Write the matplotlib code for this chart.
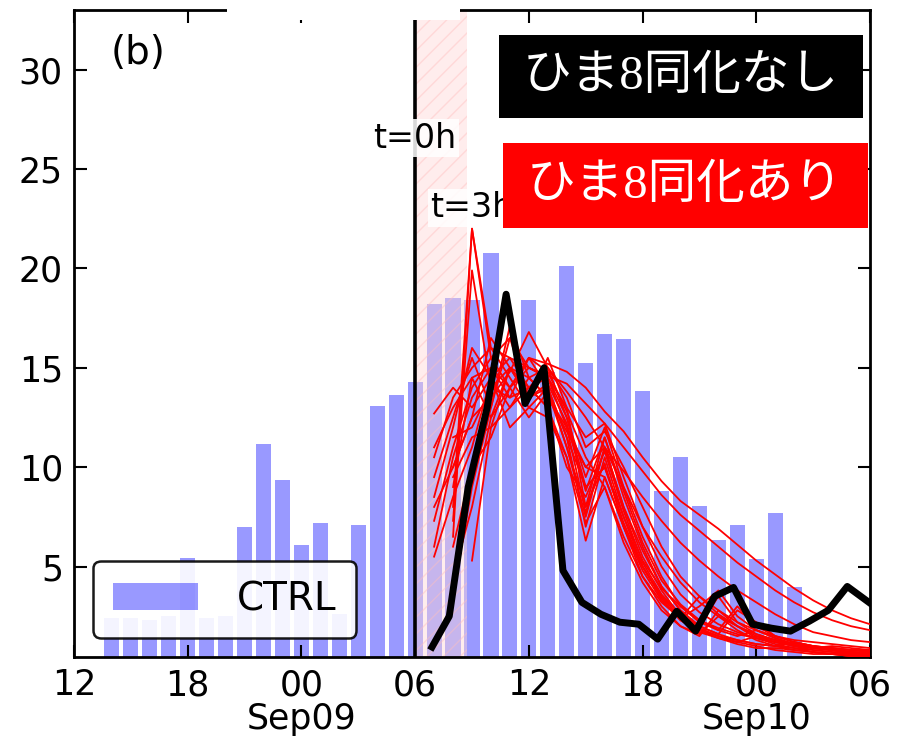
import numpy as np
import matplotlib
matplotlib.use('Agg')
from matplotlib import pyplot as plt
from matplotlib.patches import Rectangle

# hours since Sep08 12:00
bar_hours = [2, 3, 4, 5, 6, 7, 8, 9, 10, 11, 12, 13, 14, 15, 16, 17, 18, 19, 20,
             21, 22, 23, 24, 25, 26, 27, 28, 29, 30, 31, 32, 33, 34, 35, 36, 37, 38]
ctrl_vals = [2.4, 2.4, 2.3, 2.5, 5.45, 2.4, 2.5, 7.0, 11.15, 9.35, 6.1, 7.2, 2.6, 7.1,
             13.1, 13.65, 14.3, 18.2, 18.5, 18.4, 20.8, 15.5, 18.4, 14.8, 20.1, 15.25,
             16.7, 16.45, 13.85, 8.8, 10.5, 8.07, 6.33, 7.08, 5.4, 7.67, 3.95]

# no assimilation run (black)
noda_x = [18.8, 19.8, 20.8, 21.8, 22.8, 23.8, 24.8, 25.8, 26.8, 27.8, 28.8, 29.8,
          30.8, 31.8, 32.8, 33.8, 34.8, 35.8, 36.8, 37.8, 38.8, 39.8, 40.8, 41.8, 42.8]
noda_vals = [0.8, 2.5, 9.0, 13.0, 18.7, 13.2, 15.0, 4.8, 3.2, 2.6, 2.2, 2.1,
             1.35, 2.75, 1.75, 3.5, 3.95, 2.1, 1.9, 1.75, 2.25, 2.8, 4.0, 3.3, 2.6]

# assimilation ensemble (red), hourly from hour 19 to 42
ens_x = list(range(19, 43))
nan = np.nan
ens_members = [
    [nan, 8.0, 22.0, 15.5, 14.0, 15.0, 14.5, 13.0, 8.0, 11.5, 8.5, 6.0, 4.0, 2.8, 2.0, 3.5, 2.2, 1.6, 1.3, 1.1, 0.9, 0.8, 0.7, 0.6],
    [nan, 6.5, 22.0, 16.0, 15.5, 14.0, 15.0, 12.5, 9.5, 12.0, 9.0, 6.5, 4.5, 3.0, 2.2, 1.8, 3.0, 2.0, 1.5, 1.2, 1.0, 0.9, 0.8, 0.7],
    [nan, 7.3, 19.9, 14.0, 13.5, 15.5, 14.0, 11.5, 7.0, 10.5, 7.5, 5.0, 3.5, 2.4, 3.0, 3.8, 2.5, 1.8, 1.4, 1.1, 0.9, 0.8, 0.7, 0.7],
    [7.3, 11.0, 14.0, 15.5, 16.5, 15.0, 14.5, 12.0, 10.0, 11.0, 9.0, 7.0, 5.5, 4.2, 3.2, 2.5, 2.0, 1.6, 1.3, 1.1, 1.0, 0.9, 0.8, 0.8],
    [9.5, 12.5, 15.5, 13.0, 17.1, 14.5, 15.0, 13.5, 11.0, 11.8, 10.0, 8.0, 6.0, 4.5, 3.5, 2.8, 2.2, 1.8, 1.5, 1.3, 1.2, 1.1, 1.0, 0.9],
    [11.0, 13.0, 14.5, 15.0, 14.0, 15.5, 15.2, 14.8, 14.0, 12.8, 11.8, 10.5, 9.3, 8.3, 7.6, 6.9, 6.1, 5.3, 4.6, 3.9, 3.3, 2.8, 2.4, 2.1],
    [12.7, 14.0, 13.0, 14.5, 15.5, 15.0, 14.6, 14.2, 13.2, 12.2, 11.0, 9.8, 8.6, 7.6, 6.8, 6.0, 5.2, 4.5, 3.8, 3.2, 2.7, 2.3, 2.0, 1.8],
    [nan, 10.0, 12.5, 13.5, 14.8, 16.8, 15.0, 13.8, 12.5, 11.0, 9.8, 8.5, 7.3, 6.2, 5.3, 4.5, 3.8, 3.2, 2.6, 2.1, 1.7, 1.5, 1.3, 1.2],
    [nan, 3.6, 9.0, 13.0, 16.5, 13.5, 14.0, 11.0, 7.5, 11.0, 8.0, 5.5, 3.8, 2.5, 1.8, 1.5, 1.2, 1.0, 0.8, 0.7, 0.6, 0.6, 0.5, 0.5],
    [nan, nan, 5.3, 12.0, 15.0, 14.0, 13.0, 10.5, 6.3, 9.5, 7.0, 4.5, 3.0, 2.0, 1.6, 2.5, 1.8, 1.3, 1.0, 0.8, 0.7, 0.6, 0.5, 0.5],
    [8.5, 12.0, 16.0, 14.5, 13.0, 14.5, 13.5, 12.0, 7.7, 11.0, 8.0, 5.8, 4.0, 2.8, 2.0, 1.6, 2.8, 2.2, 1.5, 1.2, 1.0, 0.8, 0.7, 0.6],
    [10.5, 13.5, 15.0, 16.0, 14.5, 13.0, 14.0, 11.5, 9.0, 10.0, 7.2, 5.0, 3.4, 2.3, 1.7, 1.4, 1.2, 1.5, 1.3, 1.0, 0.8, 0.7, 0.6, 0.5],
    [nan, 9.0, 14.5, 12.5, 14.0, 15.5, 14.8, 12.8, 10.5, 9.0, 6.5, 4.5, 3.2, 2.4, 3.5, 2.6, 2.0, 1.5, 1.2, 1.0, 0.9, 0.8, 0.7, 0.6],
    [6.0, 10.5, 13.5, 15.0, 13.5, 14.0, 13.0, 10.0, 8.5, 10.8, 7.8, 5.2, 3.6, 2.6, 1.9, 1.5, 1.3, 1.1, 1.0, 1.2, 1.0, 0.8, 0.6, 0.5],
    [nan, 11.5, 12.0, 14.0, 15.0, 13.5, 15.5, 13.0, 11.5, 12.2, 9.5, 7.0, 5.0, 3.6, 2.7, 2.1, 1.7, 1.4, 1.2, 1.0, 0.9, 1.0, 0.9, 0.8],
    [nan, 9.5, 11.5, 12.0, 13.0, 14.0, 14.5, 12.5, 9.0, 10.0, 7.5, 5.3, 3.9, 3.0, 2.3, 1.9, 1.6, 1.4, 1.2, 1.1, 1.0, 0.9, 0.8, 0.8],
    [5.5, 8.5, 11.0, 14.5, 12.0, 13.0, 12.5, 10.5, 7.2, 9.0, 6.2, 4.2, 2.8, 2.0, 1.5, 2.8, 2.0, 1.4, 1.1, 0.9, 0.7, 0.6, 0.5, 0.5],
    [nan, 6.0, 10.0, 11.5, 14.0, 12.5, 13.8, 11.0, 8.0, 10.2, 7.0, 4.8, 3.3, 2.3, 1.8, 1.4, 1.1, 0.9, 0.9, 0.8, 0.7, 0.6, 0.6, 0.5],
    [8.0, 10.0, 12.5, 16.5, 15.0, 13.5, 14.2, 12.2, 8.8, 11.5, 8.8, 6.2, 4.3, 3.1, 2.3, 1.8, 1.5, 1.8, 1.4, 1.1, 0.9, 0.8, 0.7, 0.6],
    [nan, 4.5, 8.0, 12.5, 15.0, 14.5, 13.5, 11.8, 10.0, 9.5, 7.0, 5.0, 3.5, 2.6, 2.0, 1.6, 1.3, 1.1, 1.0, 0.9, 0.8, 0.7, 0.6, 0.6],
]

xtick_pos = [0, 6, 12, 18, 24, 30, 36, 42]
xtick_labels = ['12', '18', '00\nSep09', '06', '12', '18', '00\nSep10', '06']
ytick_pos = [5, 10, 15, 20, 25, 30]

fig = plt.figure(figsize=(9.06, 7.39), dpi=100)
ax = fig.add_axes([74/906, 1-657/739, 796/906, 647/739])

ax.bar(bar_hours, ctrl_vals, width=0.8, color='blue', alpha=0.4, linewidth=0, label='CTRL', zorder=1)
ax.axvspan(18, 20.75, facecolor=(1, 0.85, 0.85), edgecolor=(1, 0.75, 0.75), hatch='//',
           alpha=0.45, linewidth=0, zorder=2)

for m in ens_members:
    ax.plot(ens_x, m, color='red', lw=1.3, zorder=3)
ax.plot(noda_x, noda_vals, color='black', lw=5, zorder=4, solid_capstyle='butt')
ax.axvline(18, color='black', lw=2.6, zorder=5)

ax.text(18, 26.55, 't=0h', fontsize=24, ha='center', va='center', zorder=6,
        bbox=dict(facecolor='white', edgecolor='none', alpha=0.85, pad=2))
ax.text(21, 23.05, 't=3h', fontsize=24, ha='center', va='center', zorder=6,
        bbox=dict(facecolor='white', edgecolor='none', alpha=0.85, pad=2))
ax.text(0.046, 0.934, '(b)', transform=ax.transAxes, fontsize=28, va='center', ha='left')

ax.set_xlim(0, 42)
ax.set_ylim(0.45, 33)
ax.set_xticks(xtick_pos)
ax.set_xticklabels(xtick_labels, linespacing=1.0)
ax.set_yticks(ytick_pos)
ax.tick_params(direction='in', length=9, width=1.5, top=True, right=True, labelsize=25)
ax.tick_params(axis='x', pad=8)
ax.tick_params(axis='y', pad=8)
for s in ax.spines.values():
    s.set_linewidth(2)

leg = ax.legend(loc='lower left', fontsize=28, fancybox=True, framealpha=0.9,
                edgecolor='black', handlelength=2.2, handletextpad=1.0,
                borderaxespad=0.5, borderpad=0.5)
leg.get_frame().set_linewidth(1.8)

# label boxes
jp_font = ['Liberation Serif', 'Noto Sans CJK JP']
fig.add_artist(Rectangle((499/906, 1-118/739), 364/906, 83/739, transform=fig.transFigure,
                         facecolor='black', edgecolor='none', zorder=10))
fig.text(681/906, 1-77/739, 'ひま8同化なし', color='white', fontsize=35, family=jp_font,
         ha='center', va='center', zorder=11)
fig.add_artist(Rectangle((503/906, 1-228/739), 365/906, 85/739, transform=fig.transFigure,
                         facecolor='red', edgecolor='none', zorder=10))
fig.text(685/906, 1-186/739, 'ひま8同化あり', color='white', fontsize=35, family=jp_font,
         ha='center', va='center', zorder=11)

# white strip covering the cut title at the top
fig.add_artist(Rectangle((227/906, 1-20/739), 233/906, 20/739, transform=fig.transFigure,
                         facecolor='white', edgecolor='none', zorder=10))

fig.savefig('out.png', dpi=100)
